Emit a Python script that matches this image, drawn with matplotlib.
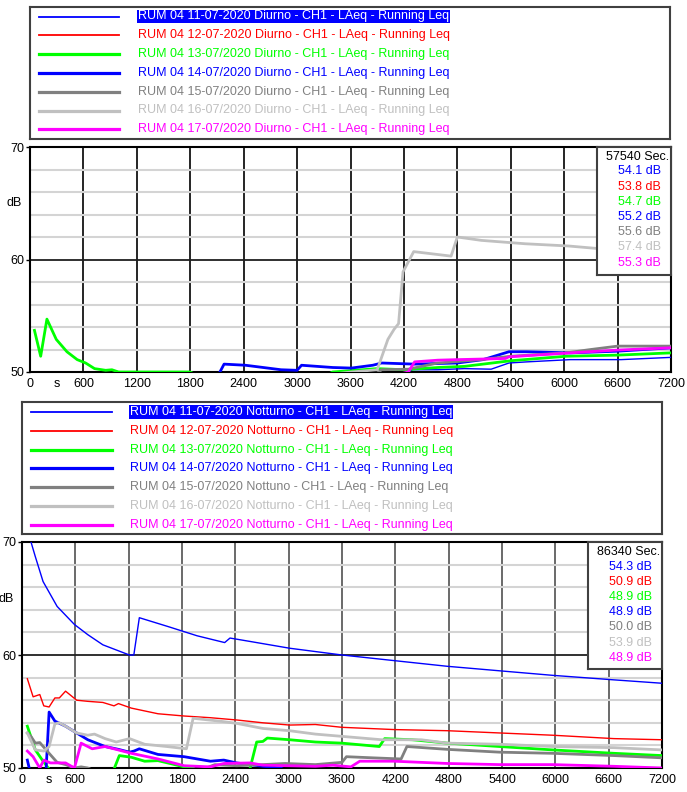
import matplotlib
matplotlib.use('Agg')
import matplotlib.pyplot as plt
import matplotlib.transforms as mtransforms

plt.rcParams['font.family'] = ['Liberation Sans', 'DejaVu Sans']

W, H = 687, 792

colors = ['#0000ff', '#ff0000', '#00ff00', '#0000ff', '#808080', '#c0c0c0', '#ff00ff']
widths = [1.0, 1.0, 2.0, 2.0, 2.0, 2.0, 2.0]
dates = ['11-07-2020', '12-07-2020', '13-07/2020', '14-07/2020', '15-07/2020', '16-07/2020', '17-07/2020']

# ---- Diurno (day) ----
day_labels = ['RUM 04 %s Diurno - CH1 - LAeq - Running Leq' % d for d in dates]
day_sec = '57540 Sec.'
day_final = ['54.1 dB', '53.8 dB', '54.7 dB', '55.2 dB', '55.6 dB', '57.4 dB', '55.3 dB']

d11_x = [4200, 4300, 4580, 4880, 5180, 5380, 5580, 6070, 6640, 7200]
d11_y = [49.9, 50.2, 50.2, 50.3, 50.25, 50.8, 50.9, 51.1, 51.1, 51.3]
d12_x = []
d12_y = []
d13_x = [50, 120, 190, 295, 415, 530, 625, 725, 850, 920, 995, 1800, 1850, 3350, 3400, 3900, 4200, 4580, 4880, 5400, 6020, 6600, 7200]
d13_y = [53.7, 51.4, 54.7, 52.9, 51.8, 51.1, 50.8, 50.3, 50.15, 50.2, 50.0, 50.0, 49.8, 49.8, 50.0, 50.3, 50.2, 50.4, 50.5, 51.0, 51.4, 51.5, 51.7]
d14_x = [2120, 2180, 2420, 2820, 3000, 3050, 3400, 3610, 3850, 3950, 4320, 4800, 5090, 5380, 5580, 6070, 6600, 7200]
d14_y = [49.8, 50.7, 50.6, 50.2, 50.15, 50.6, 50.4, 50.35, 50.6, 50.8, 50.7, 50.8, 51.1, 51.8, 51.8, 51.7, 51.85, 52.15]
d15_x = [3900, 3950, 4250, 4580, 5070, 5400, 6020, 6300, 6600, 7200]
d15_y = [49.9, 50.2, 50.25, 50.8, 51.1, 51.4, 51.7, 52.0, 52.3, 52.3]
d16_x = [3500, 3610, 3900, 4020, 4090, 4140, 4190, 4310, 4730, 4800, 5070, 5560, 6050, 6340, 7200]
d16_y = [49.9, 50.0, 50.2, 52.9, 53.8, 54.3, 58.9, 60.7, 60.3, 62.0, 61.7, 61.4, 61.2, 61.0, 60.6]
d17_x = [4200, 4250, 4320, 4580, 4800, 5340, 5380, 6070, 6600, 7200]
d17_y = [49.9, 50.0, 50.9, 51.05, 51.1, 51.2, 51.35, 51.7, 51.95, 52.15]

# ---- Notturno (night) ----
night_labels = ['RUM 04 %s Notturno - CH1 - LAeq - Running Leq' % d for d in dates]
night_labels[4] = 'RUM 04 15-07/2020 Nottuno - CH1 - LAeq - Running Leq'
night_sec = '86340 Sec.'
night_final = ['54.3 dB', '50.9 dB', '48.9 dB', '48.9 dB', '50.0 dB', '53.9 dB', '48.9 dB']

n11_x = [90, 150, 237, 395, 590, 740, 910, 1208, 1258, 1320, 1650, 1970, 2280, 2340, 2565, 3010, 3600, 4190, 4785, 5375, 5970, 6660, 7200]
n11_y = [70.3, 68.7, 66.5, 64.3, 62.7, 61.8, 60.9, 60.0, 60.0, 63.3, 62.5, 61.7, 61.1, 61.5, 61.2, 60.6, 60.0, 59.5, 59.0, 58.6, 58.2, 57.8, 57.5]
n12_x = [60, 125, 200, 245, 305, 370, 420, 490, 615, 740, 910, 1035, 1085, 1230, 1530, 1825, 2120, 2415, 2710, 3010, 3300, 3600, 4190, 4785, 5375, 5970, 6660, 7200]
n12_y = [57.9, 56.3, 56.5, 55.5, 55.4, 56.2, 56.2, 56.8, 56.0, 55.9, 55.8, 55.5, 55.7, 55.3, 54.8, 54.6, 54.45, 54.25, 54.0, 53.8, 53.85, 53.6, 53.4, 53.3, 53.1, 52.9, 52.6, 52.5]
n13_x = [60, 150, 220, 295, 330, 1025, 1095, 1230, 1380, 1530, 1825, 1925, 1960, 2560, 2640, 2710, 2760, 3010, 3300, 3600, 4020, 4080, 4390, 4785, 5375, 5970, 6660, 7200]
n13_y = [53.7, 51.6, 50.8, 50.0, 49.7, 49.7, 51.1, 50.95, 50.6, 50.65, 50.1, 50.0, 49.8, 49.8, 52.3, 52.35, 52.65, 52.5, 52.3, 52.2, 51.9, 52.6, 52.5, 52.2, 51.9, 51.6, 51.3, 51.1]
n14_x = [60, 90, 120, 270, 305, 370, 490, 615, 740, 935, 1085, 1210, 1260, 1320, 1530, 1825, 2120, 2270, 2415, 2710, 2910, 2960]
n14_y = [50.7, 49.7, 49.7, 49.7, 54.95, 54.15, 53.7, 53.1, 52.5, 51.9, 51.65, 51.4, 51.5, 51.7, 51.2, 51.0, 50.6, 50.7, 50.45, 50.15, 50.0, 49.8]
n15_x = [60, 100, 150, 200, 305, 395, 490, 590, 665, 740, 800, 2000, 2070, 2170, 2415, 2710, 2960, 3300, 3600, 3650, 3945, 4265, 4330, 4785, 5375, 5970, 6660, 7200]
n15_y = [53.1, 52.8, 52.2, 52.25, 51.3, 50.5, 50.3, 50.0, 50.1, 50.0, 49.8, 49.8, 50.0, 50.3, 50.2, 50.3, 50.4, 50.3, 50.5, 51.0, 50.9, 50.8, 51.9, 51.65, 51.4, 51.3, 51.1, 50.9]
n16_x = [60, 150, 245, 305, 370, 420, 490, 615, 740, 815, 935, 1060, 1210, 1380, 1630, 1850, 1925, 2220, 2415, 2710, 3010, 3300, 3600, 4045, 4490, 4785, 5375, 5970, 6660, 7200]
n16_y = [53.1, 51.6, 51.5, 51.9, 53.9, 54.0, 53.7, 53.1, 52.9, 53.0, 52.6, 52.3, 52.6, 52.1, 51.9, 51.7, 54.4, 54.15, 53.95, 53.5, 53.3, 53.0, 52.8, 52.5, 52.5, 52.2, 52.1, 51.9, 51.8, 51.6]
n17_x = [60, 125, 200, 245, 320, 490, 590, 665, 790, 935, 1230, 1530, 1825, 2120, 2270, 2565, 2710, 3300, 3500, 3700, 3800, 4190, 4785, 5375, 5970, 6660, 7200]
n17_y = [51.5, 51.0, 50.0, 50.7, 50.45, 50.45, 50.0, 52.2, 51.7, 51.9, 51.3, 50.8, 50.2, 50.1, 50.4, 50.45, 50.25, 50.15, 50.25, 50.1, 50.6, 50.6, 50.4, 50.3, 50.3, 50.15, 50.0]

day_series = [(d11_x, d11_y), (d12_x, d12_y), (d13_x, d13_y), (d14_x, d14_y),
              (d15_x, d15_y), (d16_x, d16_y), (d17_x, d17_y)]
night_series = [(n11_x, n11_y), (n12_x, n12_y), (n13_x, n13_y), (n14_x, n14_y),
                (n15_x, n15_y), (n16_x, n16_y), (n17_x, n17_y)]


def rect(x0, y0, x1, y1):
    return [x0 / W, 1 - y1 / H, (x1 - x0) / W, (y1 - y0) / H]


def pixel_axes(fig, x0, y0, x1, y1):
    a = fig.add_axes(rect(x0, y0, x1, y1))
    a.set_xlim(0, x1 - x0)
    a.set_ylim(y1 - y0, 0)
    a.set_xticks([])
    a.set_yticks([])
    for s in a.spines.values():
        s.set_color('#404040')
        s.set_linewidth(1.5)
    return a


def panel(fig, leg_box, plot_box, val_box, series, labels, sec, finals,
          line_x, text_x, row0, vgrid):
    # legend box (pixel offsets inside the box)
    lg = pixel_axes(fig, *leg_box)
    for i, lab in enumerate(labels):
        y = row0 + i * 18.8
        lg.plot(line_x, [y, y], color=colors[i], lw=widths[i] + 0.3)
        if i == 0:
            lg.text(text_x, y, lab, color='white', fontsize=9, va='center',
                    bbox=dict(boxstyle='square,pad=0.05', fc='#0000ff', ec='none'))
        else:
            lg.text(text_x, y, lab, color=colors[i], fontsize=9, va='center')

    # main plot
    ax = fig.add_axes(rect(*plot_box))
    for (x, y), c, lw in zip(series, colors, widths):
        if len(x):
            ax.plot(x, y, color=c, lw=lw, zorder=3)
    ax.set_xlim(0, 7200)
    ax.set_ylim(50, 70)
    ax.set_xticks(range(0, 7201, 600))
    ax.set_xticks([300], minor=True)
    ax.set_xticklabels(['s'], minor=True)
    ax.set_yticks([50, 60, 70])
    ax.set_yticks([52, 54, 56, 58, 62, 64, 66, 68], minor=True)
    ax.set_yticklabels([], minor=True)
    ax.grid(axis='x', which='major', color=vgrid, lw=1.2, zorder=1)
    ax.grid(axis='y', which='minor', color='#d4d4d4', lw=1.5, zorder=1)
    ax.axhline(60, color='#202020', lw=1.3, zorder=2)
    ax.set_axisbelow(True)
    ax.tick_params(axis='x', which='both', length=0, pad=4, labelsize=9)
    ax.tick_params(axis='y', which='major', length=3, width=1, pad=1, labelsize=9)
    ax.tick_params(axis='y', which='minor', length=0)
    for s in ax.spines.values():
        s.set_color('black')
        s.set_linewidth(1.5)
    tr = mtransforms.blended_transform_factory(ax.transAxes, ax.transData)
    ax.text(-0.012, 65, 'dB', transform=tr, ha='right', va='center', fontsize=9)

    # final values box
    vb = pixel_axes(fig, *val_box)
    bw = val_box[2] - val_box[0]
    vb.text(bw - 2, 10, sec, ha='right', va='center', fontsize=9, color='black')
    for i, v in enumerate(finals):
        vb.text(bw - 10, 24.5 + i * 15.2, v, ha='right', va='center', fontsize=9, color=colors[i])
    return ax


fig = plt.figure(figsize=(W / 100, H / 100), dpi=100)

panel(fig, (30, 7, 670, 139), (30, 147, 671, 372), (597, 147, 671, 275),
      day_series, day_labels, day_sec, day_final,
      [9, 89], 108, 9.5, 'black')

panel(fig, (22, 402, 662, 534), (22, 542, 662, 768), (588, 542, 662, 669),
      night_series, night_labels, night_sec, night_final,
      [9, 90], 108, 10, '#505050')

fig.savefig('out.png', dpi=100)
